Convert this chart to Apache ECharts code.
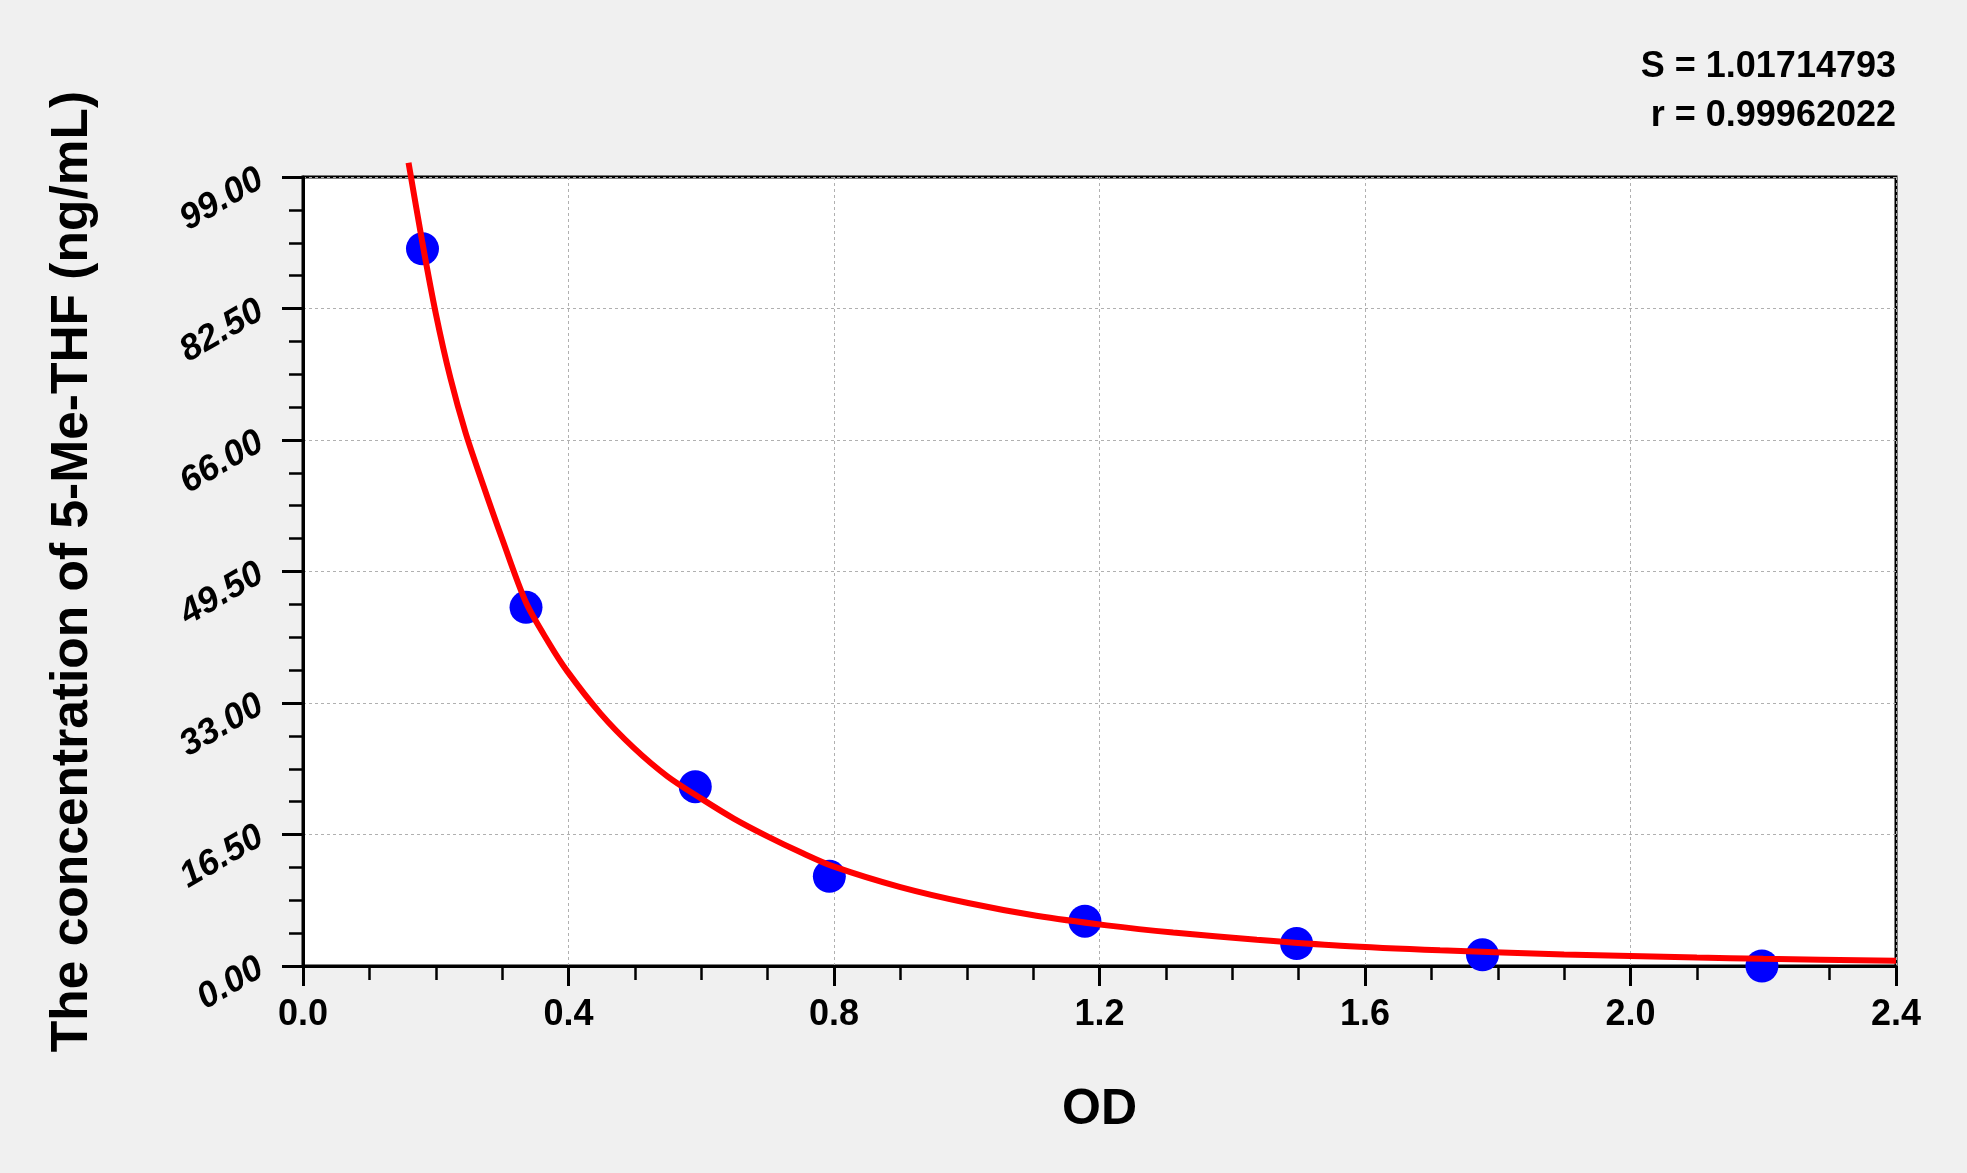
<!DOCTYPE html>
<html>
<head>
<meta charset="utf-8">
<script src="https://cdn.jsdelivr.net/npm/echarts@6/dist/echarts.min.js"></script>
<style>
html,body{margin:0;padding:0;background:#F0F0F0;}
#c{width:1967px;height:1173px;}
</style>
</head>
<body>
<div id="c"></div>
<script>
// Standard points (OD, concentration)
const pointOD = [0.180, 0.336, 0.591, 0.793, 1.178, 1.497, 1.777, 2.198];
const pointConc = [90, 45, 22.5, 11.25, 5.625, 2.8125, 1.406, 0];
// Fitted curve
const curveOD = [0.159, 0.180, 0.200, 0.222, 0.245, 0.270, 0.300, 0.336, 0.370, 0.398, 0.448, 0.498, 0.549, 0.600, 0.649, 0.699, 0.749, 0.799, 0.900, 1.002, 1.105, 1.211, 1.311, 1.437, 1.563, 1.713, 1.900, 2.000, 2.100, 2.200, 2.400];
const curveConc = [100.8, 90.7, 81.9, 73.8, 66.9, 60.7, 53.6, 45.6, 40.6, 37.0, 31.7, 27.4, 23.8, 21.0, 18.5, 16.3, 14.3, 12.5, 9.9, 7.9, 6.3, 5.1, 4.2, 3.3, 2.55, 1.98, 1.45, 1.25, 1.06, 0.9, 0.65];
const statLines = ['S = 1.01714793', 'r = 0.99962022'];
const xTitle = 'OD';
const yTitle = 'The concentration of 5-Me-THF (ng/mL)';

const FONT = '"Liberation Sans", Arial, sans-serif';
const chart = echarts.init(document.getElementById('c'), null, {renderer: 'canvas'});
const gridLine = {show: true, lineStyle: {color: '#b0b0b0', width: 1, type: [3, 3]}};
chart.setOption({
  backgroundColor: '#F0F0F0',
  animation: false,
  grid: {left: 303, right: 71, top: 177, bottom: 207, show: true, backgroundColor: '#ffffff', borderColor: '#000', borderWidth: 3},
  graphic: [
    {type: 'text', right: 71, top: 49, style: {text: statLines[0], font: 'bold 36px ' + FONT, fill: '#000'}},
    {type: 'text', right: 71, top: 98, style: {text: statLines[1], font: 'bold 36px ' + FONT, fill: '#000'}}
  ],
  xAxis: {
    type: 'value', min: 0, max: 2.4, interval: 0.4,
    name: xTitle, nameLocation: 'middle', nameGap: 119,
    nameTextStyle: {fontFamily: FONT, fontWeight: 'bold', fontSize: 50, color: '#000'},
    axisLine: {show: true, onZero: false, lineStyle: {color: '#000', width: 3}},
    axisTick: {show: true, inside: false, length: 20, lineStyle: {color: '#000', width: 3}},
    minorTick: {show: true, splitNumber: 4, length: 14, lineStyle: {color: '#000', width: 2.5}},
    axisLabel: {margin: 31, fontFamily: FONT, fontWeight: 'bold', fontSize: 36, color: '#000', formatter: v => v.toFixed(1)},
    splitLine: gridLine
  },
  yAxis: {
    type: 'value', min: 0, max: 99, interval: 16.5,
    name: yTitle, nameLocation: 'middle', nameGap: 204, nameRotate: 90,
    nameTextStyle: {fontFamily: FONT, fontWeight: 'bold', fontSize: 51.5, color: '#000'},
    axisLine: {show: true, onZero: false, lineStyle: {color: '#000', width: 3}},
    axisTick: {show: true, inside: false, length: 21, lineStyle: {color: '#000', width: 3}},
    minorTick: {show: true, splitNumber: 4, length: 14, lineStyle: {color: '#000', width: 2.5}},
    axisLabel: {margin: 42, rotate: 30, fontFamily: FONT, fontWeight: 'bold', fontStyle: 'italic', fontSize: 36, color: '#000', formatter: v => v.toFixed(2)},
    splitLine: gridLine
  },
  series: [
    {
      type: 'scatter', z: 2,
      data: pointOD.map((x, i) => [x, pointConc[i]]),
      symbol: 'circle', symbolSize: 33,
      itemStyle: {color: '#0000FF', opacity: 1}
    },
    {
      type: 'line', z: 3, clip: false,
      data: curveOD.map((x, i) => [x, curveConc[i]]),
      smooth: 0.3, showSymbol: false, symbol: 'none',
      lineStyle: {color: '#FF0000', width: 6}
    }
  ]
});
</script>
</body>
</html>
